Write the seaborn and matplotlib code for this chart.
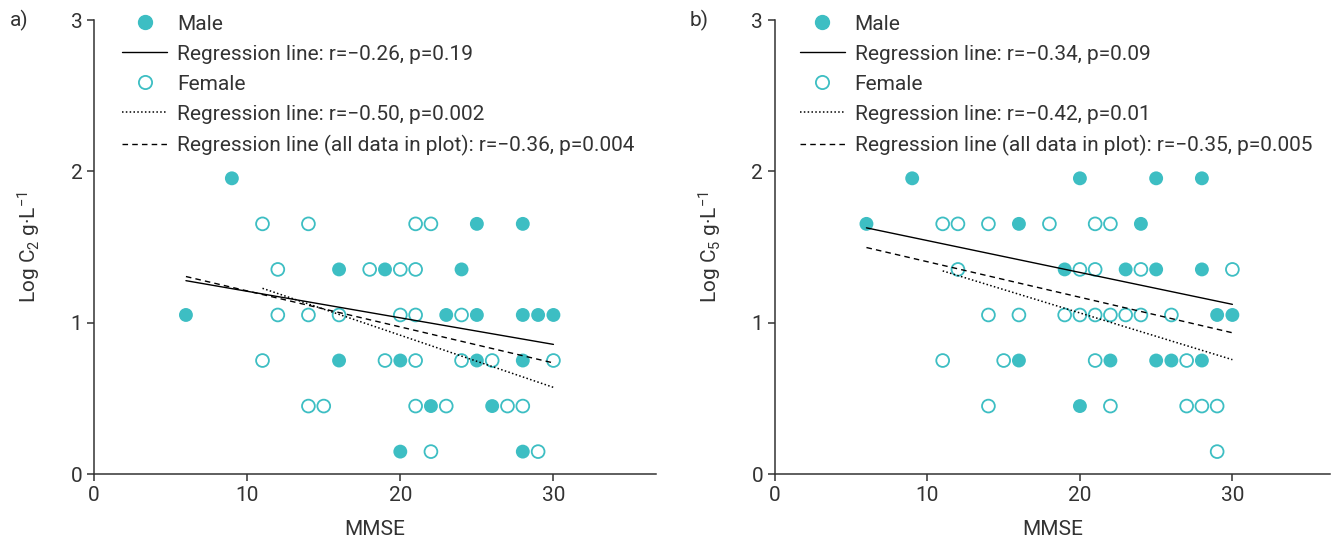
import matplotlib
matplotlib.use("Agg")
import matplotlib.pyplot as plt
from matplotlib.lines import Line2D
import numpy as np
import pandas as pd
import seaborn as sns

# log concentration levels (doubling dilutions)
L = [0.148, 0.449, 0.750, 1.051, 1.352, 1.653, 1.954]

# panel a) C2
a_male_mmse = [9, 16, 6, 16, 25, 28, 19, 24, 23, 25, 28, 29, 30, 20, 25, 28, 22, 26, 20, 28]
a_male_log = [L[6], L[4], L[3], L[2], L[5], L[5], L[4], L[4], L[3], L[3], L[3], L[3], L[3],
              L[2], L[2], L[2], L[1], L[1], L[0], L[0]]
a_female_mmse = [11, 14, 12, 18, 12, 14, 16, 11, 14, 15, 21, 22, 20, 21, 20, 21, 24, 19, 21, 24,
                 26, 30, 21, 23, 27, 28, 22, 29]
a_female_log = [L[5], L[5], L[4], L[4], L[3], L[3], L[3], L[2], L[1], L[1], L[5], L[5], L[4], L[4],
                L[3], L[3], L[3], L[2], L[2], L[2], L[2], L[2], L[1], L[1], L[1], L[1], L[0], L[0]]

# panel b) C5
b_male_mmse = [9, 20, 25, 28, 6, 16, 24, 19, 23, 25, 28, 29, 30, 16, 22, 25, 26, 28, 20]
b_male_log = [L[6], L[6], L[6], L[6], L[5], L[5], L[5], L[4], L[4], L[4], L[4], L[3], L[3],
              L[2], L[2], L[2], L[2], L[2], L[1]]
b_female_mmse = [11, 12, 14, 18, 21, 22, 12, 20, 21, 24, 30, 14, 16, 19, 20, 21, 22, 23, 24, 26,
                 11, 15, 21, 27, 14, 22, 27, 28, 29, 29]
b_female_log = [L[5], L[5], L[5], L[5], L[5], L[5], L[4], L[4], L[4], L[4], L[4], L[3], L[3], L[3],
                L[3], L[3], L[3], L[3], L[3], L[3], L[2], L[2], L[2], L[2], L[1], L[1], L[1], L[1],
                L[1], L[0]]

a_labels = ["Male", "Regression line: r=\u22120.26, p=0.19", "Female",
            "Regression line: r=\u22120.50, p=0.002",
            "Regression line (all data in plot): r=\u22120.36, p=0.004"]
b_labels = ["Male", "Regression line: r=\u22120.34, p=0.09", "Female",
            "Regression line: r=\u22120.42, p=0.01",
            "Regression line (all data in plot): r=\u22120.35, p=0.005"]

TEAL = "#3dbec3"
INK = "#333333"

sns.set_style("ticks")
plt.rcParams["font.family"] = ["Roboto", "DejaVu Sans"]
plt.rcParams["mathtext.default"] = "regular"
FS = 15


def panel(ax, male_x, male_y, fem_x, fem_y, labels, ylab, xmax, leg_x):
    male = pd.DataFrame({"MMSE": male_x, "log": male_y})
    fem = pd.DataFrame({"MMSE": fem_x, "log": fem_y})
    both = pd.concat([male, fem])

    sns.scatterplot(data=male, x="MMSE", y="log", ax=ax, s=100, color=TEAL,
                    edgecolor="none", zorder=2)
    sns.scatterplot(data=fem, x="MMSE", y="log", ax=ax, s=85, facecolor="none",
                    edgecolor=TEAL, linewidth=1.3, zorder=2)

    sns.regplot(data=male, x="MMSE", y="log", ax=ax, scatter=False, ci=None, truncate=True,
                line_kws=dict(color="black", lw=1.0, zorder=3))
    sns.regplot(data=fem, x="MMSE", y="log", ax=ax, scatter=False, ci=None, truncate=True,
                line_kws=dict(color="black", lw=1.1, ls=(0, (1, 1.5)), zorder=3))
    sns.regplot(data=both, x="MMSE", y="log", ax=ax, scatter=False, ci=None, truncate=True,
                line_kws=dict(color="black", lw=1.0, ls=(0, (4, 3)), zorder=3))

    ax.set_xlim(0, xmax)
    ax.set_ylim(0, 3)
    ax.set_xticks([0, 10, 20, 30])
    ax.set_yticks([0, 1, 2, 3])
    ax.set_xlabel("MMSE", fontsize=FS, color=INK, labelpad=11)
    ax.set_ylabel(ylab, fontsize=FS, color=INK, labelpad=20)
    ax.tick_params(labelsize=FS, colors=INK, length=5, width=1.1)
    for side in ["left", "bottom"]:
        ax.spines[side].set_color(INK)
        ax.spines[side].set_linewidth(1.1)
    sns.despine(ax=ax)

    handles = [
        Line2D([], [], ls="none", marker="o", ms=10, mfc=TEAL, mec=TEAL),
        Line2D([], [], color="black", lw=1.0),
        Line2D([], [], ls="none", marker="o", ms=9.5, mfc="none", mec=TEAL, mew=1.3),
        Line2D([], [], color="black", lw=1.1, ls=(0, (1, 1.5))),
        Line2D([], [], color="black", lw=1.0, ls=(0, (4, 3))),
    ]
    ax.legend(handles, labels, loc="upper left", bbox_to_anchor=(leg_x, 1.012), frameon=False,
              fontsize=FS, borderpad=0, borderaxespad=0, handlelength=2.15,
              handletextpad=0.48, labelspacing=0.53, labelcolor=INK)


fig = plt.figure(figsize=(13.38, 5.4), dpi=100)
ax_a = fig.add_axes([0.0703, 0.1222, 0.420, 0.8407])
ax_b = fig.add_axes([0.5792, 0.1222, 0.4148, 0.8407])

panel(ax_a, a_male_mmse, a_male_log, a_female_mmse, a_female_log, a_labels,
      "Log C$_2$ g\u00b7L$^{-1}$", 36.7, 0.05)
panel(ax_b, b_male_mmse, b_male_log, b_female_mmse, b_female_log, b_labels,
      "Log C$_5$ g\u00b7L$^{-1}$", 36.4, 0.045)

fig.text(10 / 1338, 1 - 20 / 540, "a)", fontsize=FS, color=INK, va="center")
fig.text(690 / 1338, 1 - 20 / 540, "b)", fontsize=FS, color=INK, va="center")

fig.savefig("out.png", dpi=100)
